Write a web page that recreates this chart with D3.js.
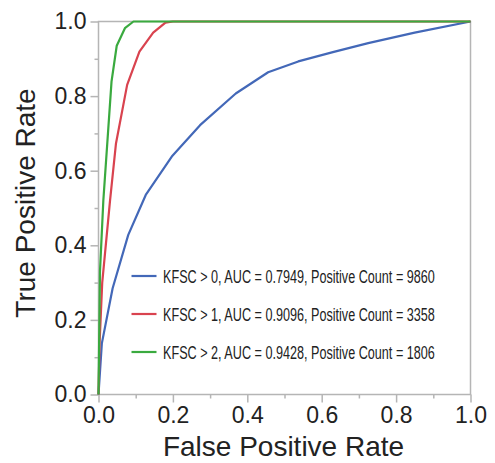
<!DOCTYPE html>
<html>
<head>
<meta charset="utf-8">
<script src="https://cdn.jsdelivr.net/npm/d3@7"></script>
<style>
  html, body { margin: 0; padding: 0; background: #fff; }
  svg { display: block; }
</style>
</head>
<body>
<svg id="chart" width="495" height="463"></svg>
<script>
// ---- data ----
const seriesNames = [
  "KFSC > 0, AUC = 0.7949, Positive Count = 9860",
  "KFSC > 1, AUC = 0.9096, Positive Count = 3358",
  "KFSC > 2, AUC = 0.9428, Positive Count = 1806"
];
const seriesColors = ["#4368b8", "#d9434f", "#3aaa3f"];
const rocKFSC0 = [[0,0],[0.009,0.137],[0.038,0.285],[0.08,0.428],[0.127,0.535],[0.197,0.638],[0.273,0.722],[0.369,0.807],[0.456,0.864],[0.537,0.893],[0.63,0.918],[0.725,0.942],[0.85,0.97],[1,1]];
const rocKFSC1 = [[0,0],[0.003,0.14],[0.01,0.3],[0.031,0.52],[0.047,0.673],[0.077,0.83],[0.11,0.919],[0.147,0.97],[0.18,0.997],[0.2,1],[1,1]];
const rocKFSC2 = [[0,0],[0.004,0.33],[0.013,0.52],[0.035,0.839],[0.049,0.935],[0.071,0.982],[0.094,1],[1,1]];
const xTicks = [0, 0.2, 0.4, 0.6, 0.8, 1.0];
const yTicks = [0, 0.2, 0.4, 0.6, 0.8, 1.0];
const minorTicks = [0.1, 0.3, 0.5, 0.7, 0.9];
const xTitle = "False Positive Rate";
const yTitle = "True Positive Rate";

const seriesData = [rocKFSC0, rocKFSC1, rocKFSC2];

// ---- layout ----
const svg = d3.select("#chart");
const pLeft = 98.5, pRight = 470.5, pTop = 21.5, pBottom = 394.5;
const x = d3.scaleLinear().domain([0, 1]).range([pLeft, pRight]);
const y = d3.scaleLinear().domain([0, 1]).range([pBottom, pTop]);
const frameColor = "#b5b5b5";
const textColor = "#222";
const fontFam = "'Liberation Sans', Arial, sans-serif";

// minor ticks
svg.append("g").attr("transform", `translate(0,${pBottom})`)
  .call(d3.axisBottom(x).tickValues(minorTicks).tickSize(4).tickFormat(""))
  .call(g => g.select(".domain").remove())
  .call(g => g.selectAll("line").attr("stroke", frameColor).attr("stroke-width", 1.5));
svg.append("g").attr("transform", `translate(${pLeft},0)`)
  .call(d3.axisLeft(y).tickValues(minorTicks).tickSize(4).tickFormat(""))
  .call(g => g.select(".domain").remove())
  .call(g => g.selectAll("line").attr("stroke", frameColor).attr("stroke-width", 1.5));

// major ticks + labels
const xAxis = svg.append("g").attr("transform", `translate(0,${pBottom})`)
  .call(d3.axisBottom(x).tickValues(xTicks).tickSize(8).tickPadding(4).tickFormat(d3.format(".1f")));
xAxis.select(".domain").remove();
xAxis.selectAll("line").attr("stroke", frameColor).attr("stroke-width", 1.5);
xAxis.selectAll("text").attr("fill", textColor)
  .style("font-family", fontFam).style("font-size", "23px");

const yAxis = svg.append("g").attr("transform", `translate(${pLeft},0)`)
  .call(d3.axisLeft(y).tickValues(yTicks).tickSize(8).tickPadding(4).tickFormat(d3.format(".1f")));
yAxis.select(".domain").remove();
yAxis.selectAll("line").attr("stroke", frameColor).attr("stroke-width", 1.5);
yAxis.selectAll("text").attr("fill", textColor)
  .style("font-family", fontFam).style("font-size", "23px");

// frame
svg.append("rect")
  .attr("x", pLeft).attr("y", pTop)
  .attr("width", pRight - pLeft).attr("height", pBottom - pTop)
  .attr("fill", "none").attr("stroke", frameColor).attr("stroke-width", 1.5);

// curves
const line = d3.line().x(d => x(d[0])).y(d => y(d[1]));
seriesData.forEach((data, i) => {
  svg.append("path")
    .datum(data)
    .attr("d", line)
    .attr("fill", "none")
    .attr("stroke", seriesColors[i])
    .attr("stroke-width", 2.2)
    .attr("stroke-linejoin", "round");
});

// legend (condensed text via horizontal scaling)
const legendRowsY = [276, 314, 352];
const legendTextWidth = 272;
seriesNames.forEach((name, i) => {
  svg.append("line")
    .attr("x1", 131.5).attr("x2", 156.5)
    .attr("y1", legendRowsY[i]).attr("y2", legendRowsY[i])
    .attr("stroke", seriesColors[i]).attr("stroke-width", 2.2);
  const g = svg.append("g");
  const t = g.append("text")
    .attr("x", 0).attr("y", 0)
    .attr("fill", textColor)
    .style("font-family", fontFam)
    .style("font-size", "18.5px")
    .text(name);
  const w = t.node().getComputedTextLength();
  const s = legendTextWidth / w;
  g.attr("transform", `translate(163,${legendRowsY[i] + 7}) scale(${s},1)`);
});

// axis titles
svg.append("text")
  .attr("x", (pLeft + pRight) / 2 - 1).attr("y", 456)
  .attr("text-anchor", "middle").attr("fill", textColor)
  .style("font-family", fontFam).style("font-size", "28px")
  .text(xTitle);
svg.append("text")
  .attr("transform", `translate(35,${203}) rotate(-90)`)
  .attr("text-anchor", "middle").attr("fill", textColor)
  .style("font-family", fontFam).style("font-size", "28px")
  .text(yTitle);
</script>
</body>
</html>
